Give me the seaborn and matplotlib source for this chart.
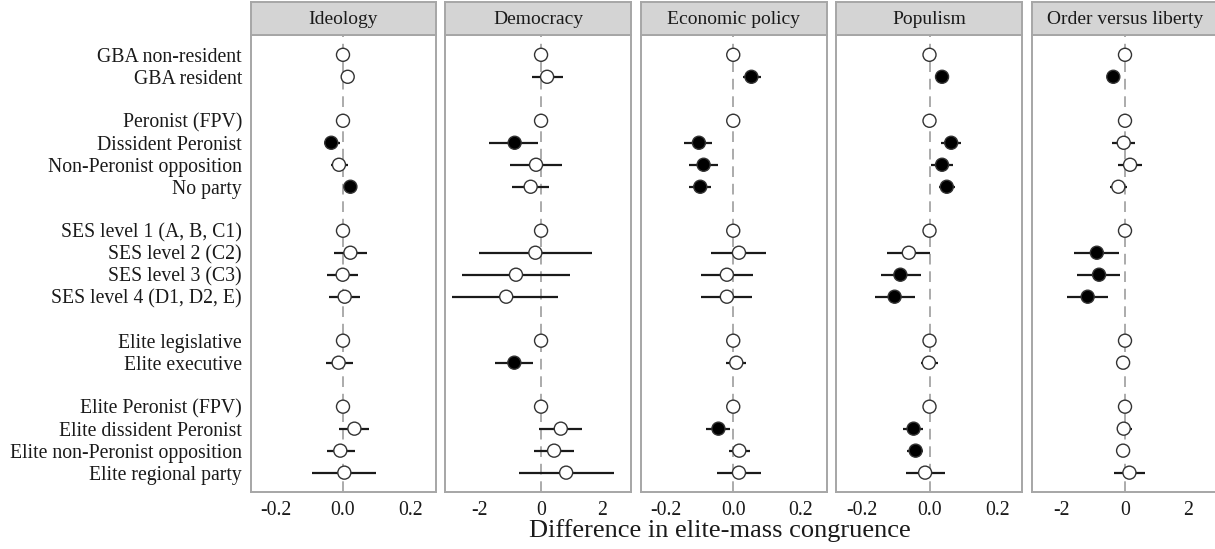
import numpy as np
import pandas as pd
import matplotlib
matplotlib.use("Agg")
import matplotlib.pyplot as plt
import seaborn as sns

# Row layout (None = spacer between groups of categories)
row_labels = [
    "GBA non-resident", "GBA resident", None,
    "Peronist (FPV)", "Dissident Peronist", "Non-Peronist opposition", "No party", None,
    "SES level 1 (A, B, C1)", "SES level 2 (C2)", "SES level 3 (C3)", "SES level 4 (D1, D2, E)", None,
    "Elite legislative", "Elite executive", None,
    "Elite Peronist (FPV)", "Elite dissident Peronist", "Elite non-Peronist opposition", "Elite regional party",
]

panels = ["Ideology", "Democracy", "Economic policy", "Populism", "Order versus liberty"]

# Estimates, confidence bounds and significance (1 = filled marker), per dimension
ideology_est = [0, 0.014, 0, -0.035, -0.012, 0.022, 0, 0.022, -0.001, 0.005, 0, -0.013, 0, 0.034, -0.008, 0.004]
ideology_lo  = [0, 0.004, 0, -0.058, -0.036, 0.010, 0, -0.026, -0.048, -0.042, 0, -0.051, 0, -0.013, -0.048, -0.091]
ideology_hi  = [0, 0.024, 0, -0.010, 0.015, 0.034, 0, 0.072, 0.045, 0.050, 0, 0.029, 0, 0.077, 0.035, 0.097]
ideology_sig = [0, 0, 0, 1, 0, 1, 0, 0, 0, 0, 0, 0, 0, 0, 0, 0]

democracy_est = [0, 0.197, 0, -0.863, -0.164, -0.34, 0, -0.186, -0.82, -1.14, 0, -0.874, 0, 0.645, 0.426, 0.82]
democracy_lo  = [0, -0.306, 0, -1.69, -1.02, -0.95, 0, -2.02, -2.57, -2.90, 0, -1.50, 0, -0.055, -0.22, -0.73]
democracy_hi  = [0, 0.71, 0, -0.087, 0.68, 0.27, 0, 1.66, 0.93, 0.57, 0, -0.27, 0, 1.33, 1.07, 2.38]
democracy_sig = [0, 0, 0, 1, 0, 0, 0, 0, 0, 0, 0, 1, 0, 0, 0, 0]

economic_est = [0, 0.054, 0, -0.102, -0.088, -0.098, 0, 0.017, -0.019, -0.019, 0, 0.009, 0, -0.044, 0.018, 0.017]
economic_lo  = [0, 0.029, 0, -0.145, -0.130, -0.130, 0, -0.066, -0.096, -0.096, 0, -0.021, 0, -0.081, -0.014, -0.048]
economic_hi  = [0, 0.081, 0, -0.063, -0.046, -0.066, 0, 0.097, 0.059, 0.057, 0, 0.039, 0, -0.009, 0.049, 0.081]
economic_sig = [0, 1, 0, 1, 1, 1, 0, 0, 0, 0, 0, 0, 0, 1, 0, 0]

populism_est = [0, 0.037, 0, 0.064, 0.037, 0.051, 0, -0.061, -0.086, -0.103, 0, -0.002, 0, -0.047, -0.041, -0.013]
populism_lo  = [0, 0.020, 0, 0.034, 0.004, 0.029, 0, -0.124, -0.144, -0.162, 0, -0.026, 0, -0.079, -0.067, -0.069]
populism_hi  = [0, 0.056, 0, 0.093, 0.068, 0.076, 0, 0.000, -0.026, -0.042, 0, 0.024, 0, -0.020, -0.018, 0.046]
populism_sig = [0, 1, 0, 1, 1, 1, 0, 0, 1, 1, 0, 0, 0, 1, 1, 0]

order_est = [0, -0.37, 0, -0.04, 0.16, -0.21, 0, -0.89, -0.82, -1.18, 0, -0.06, 0, -0.04, -0.06, 0.14]
order_lo  = [0, -0.58, 0, -0.40, -0.21, -0.47, 0, -1.61, -1.51, -1.84, 0, -0.24, 0, -0.26, -0.26, -0.34]
order_hi  = [0, -0.16, 0, 0.32, 0.55, 0.05, 0, -0.18, -0.16, -0.53, 0, 0.16, 0, 0.21, 0.16, 0.63]
order_sig = [0, 1, 0, 0, 0, 0, 0, 1, 1, 1, 0, 0, 0, 0, 0, 0]

x_ticks = {
    "Ideology": ([-0.2, 0.0, 0.2], ["-0.2", "0.0", "0.2"]),
    "Democracy": ([-2, 0, 2], ["-2", "0", "2"]),
    "Economic policy": ([-0.2, 0.0, 0.2], ["-0.2", "0.0", "0.2"]),
    "Populism": ([-0.2, 0.0, 0.2], ["-0.2", "0.0", "0.2"]),
    "Order versus liberty": ([-2, 0, 2], ["-2", "0", "2"]),
}

series = {
    "Ideology": (ideology_est, ideology_lo, ideology_hi, ideology_sig),
    "Democracy": (democracy_est, democracy_lo, democracy_hi, democracy_sig),
    "Economic policy": (economic_est, economic_lo, economic_hi, economic_sig),
    "Populism": (populism_est, populism_lo, populism_hi, populism_sig),
    "Order versus liberty": (order_est, order_lo, order_hi, order_sig),
}

labelled = [(i, lab) for i, lab in enumerate(row_labels) if lab is not None]
ypos = [i for i, _ in labelled]
ylabels = [lab for _, lab in labelled]

frames = []
for name in panels:
    est, lo, hi, sig = series[name]
    frames.append(pd.DataFrame({
        "panel": name, "category": ylabels, "y": ypos,
        "est": est, "lo": lo, "hi": hi,
        "significant": [bool(s) for s in sig],
    }))
df = pd.concat(frames, ignore_index=True)

sns.set_theme(style="white")
plt.rcParams["font.family"] = ["Liberation Serif", "DejaVu Serif"]

W, H = 1215, 549
fig = plt.figure(figsize=(W / 100, H / 100), dpi=100)

# panel pixel extents (left, right) and x limits
panel_px = [(251, 436), (445, 631), (641, 826.5), (836, 1022), (1032, 1218)]
xlims = [(-0.274, 0.277), (-3.14, 2.94), (-0.274, 0.277), (-0.276, 0.273), (-2.94, 2.94)]
top_px, bottom_px, strip_top_px = 35, 492, 2

border_col = "#a6a6a6"
text_col = "#1a1a1a"
for k, name in enumerate(panels):
    x0, x1 = panel_px[k]
    ax = fig.add_axes([x0 / W, 1 - bottom_px / H, (x1 - x0) / W, (bottom_px - top_px) / H])
    sub = df[df["panel"] == name]

    ax.axvline(0, color="#ababab", lw=1.4, dashes=(5.5, 3.5), zorder=1)
    bars = sub[sub["hi"] > sub["lo"]]
    ax.hlines(bars["y"], bars["lo"], bars["hi"], color="#1a1a1a", lw=1.6, zorder=2)
    sns.scatterplot(data=sub, x="est", y="y", hue="significant",
                    palette={True: "black", False: "white"},
                    edgecolor="#333333", linewidth=1.0, s=88, legend=False,
                    ax=ax, zorder=3)

    ax.set_xlim(*xlims[k])
    ax.set_ylim(len(row_labels) - 1 + 0.88, -0.9)
    ticks, tlabels = x_ticks[name]
    ax.set_xticks(ticks)
    ax.set_xticklabels(tlabels, fontsize=14.2, color=text_col)
    ax.set_yticks(ypos)
    if k == 0:
        ax.set_yticklabels(ylabels, fontsize=14.2, color=text_col)
    else:
        ax.set_yticklabels([])
    ax.tick_params(axis="both", direction="out", length=4, width=1, color="#555555", pad=2.5)
    if k != 0:
        ax.tick_params(axis="y", length=0)
    ax.set_xlabel("")
    ax.set_ylabel("")
    ax.grid(False)
    for sp in ax.spines.values():
        sp.set_color(border_col)
        sp.set_linewidth(1.4)

    # facet strip
    sax = fig.add_axes([x0 / W, 1 - top_px / H, (x1 - x0) / W, (top_px - strip_top_px) / H])
    sax.set_facecolor("#d4d4d4")
    sax.set_xticks([])
    sax.set_yticks([])
    for sp in sax.spines.values():
        sp.set_color(border_col)
        sp.set_linewidth(1.4)
    sax.text(0.5, 0.48, name, ha="center", va="center", fontsize=14, color=text_col,
             transform=sax.transAxes)

fig.text(720 / W, 1 - 531 / H, "Difference in elite-mass congruence",
         ha="center", va="center", fontsize=19, color=text_col)

fig.savefig("out.png", dpi=100)
